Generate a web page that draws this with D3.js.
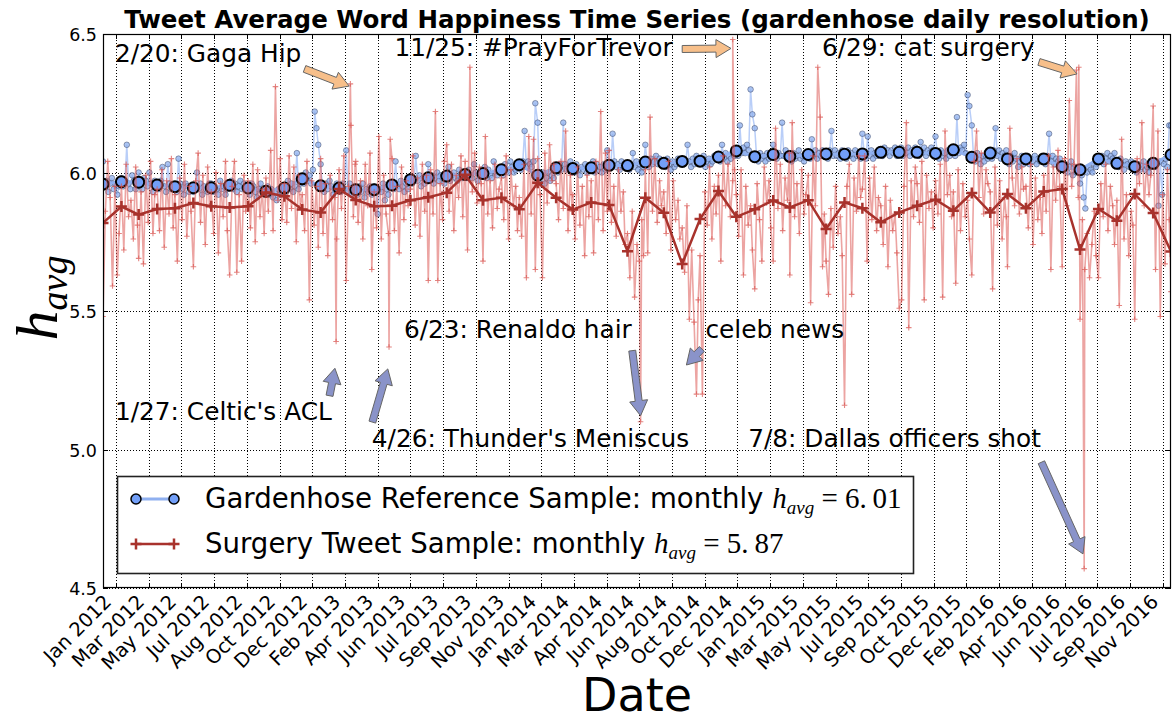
<!DOCTYPE html>
<html>
<head>
<meta charset="utf-8">
<script src="https://cdn.jsdelivr.net/npm/d3@7"></script>
<style>
body{margin:0;background:#fff}
</style>
</head>
<body>
<svg id="chart" width="1174" height="722"></svg>
<script>
//---monthly averages, one per month from Jan 2012 to Dec 2016---
var monthStart = new Date(2012, 0, 1)
var gardenMonthly = [5.958,5.967,5.965,5.955,5.949,5.945,5.945,5.954,5.944,5.932,5.944,5.977,
  5.952,5.944,5.938,5.938,5.955,5.974,5.981,5.987,5.993,5.996,6.010,6.028,
  5.990,6.017,6.014,6.017,6.026,6.025,6.038,6.033,6.040,6.041,6.056,6.078,
  6.057,6.065,6.058,6.065,6.067,6.066,6.067,6.073,6.073,6.073,6.069,6.082,
  6.055,6.070,6.049,6.049,6.049,6.021,6.010,6.049,6.033,6.021,6.033,6.064]
var surgeryMonthly = [5.818,5.877,5.848,5.868,5.871,5.890,5.878,5.874,5.878,5.928,5.914,5.866,
  5.856,5.940,5.901,5.878,5.880,5.900,5.911,5.927,5.992,5.900,5.909,5.867,
  5.963,5.909,5.866,5.892,5.883,5.716,5.909,5.855,5.670,5.832,5.933,5.840,
  5.867,5.899,5.874,5.900,5.796,5.892,5.871,5.820,5.856,5.880,5.902,5.862,
  5.926,5.856,5.922,5.871,5.931,5.940,5.722,5.868,5.826,5.922,5.854,5.715]

//---daily samples, one row per month (day of month listed in *Days)---
var surgeryDays = [1,5,9,13,17,21,25,28]
var surgeryDaily = [
 [5.48,5.86,6.04,5.91,5.59,5.95,5.63,5.78],[5.95,5.72,6.03,5.84,5.90,5.76,6.02,5.81],
 [5.69,5.93,5.67,5.99,5.82,6.04,5.78,5.92],[5.94,5.79,6.01,5.73,5.97,5.85,6.05,5.80],
 [5.92,5.68,5.98,5.83,6.03,5.77,5.95,5.86],[5.66,5.97,6.07,5.82,5.99,5.74,6.02,5.88],
 [5.93,5.78,6.00,5.71,5.96,5.84,6.04,5.79],[5.63,5.95,6.04,5.64,5.92,5.68,5.99,5.86],
 [5.97,5.80,6.03,5.75,6.01,5.84,5.94,5.78],[5.98,5.86,6.08,5.79,6.31,5.90,6.05,5.83],
 [5.96,5.82,6.06,5.87,6.02,5.75,5.99,5.88],[5.92,5.79,6.04,5.54,5.97,5.81,5.95,5.73],
 [6.05,5.78,5.96,5.70,5.99,5.83,5.91,5.76],[6.01,5.87,6.06,5.61,5.95,6.17,5.84,6.03],
 [6.04,5.82,5.97,5.76,6.03,5.88,6.07,5.65],[5.93,5.80,6.13,5.76,5.99,5.85,5.78,6.12],
 [6.05,5.79,5.95,5.71,6.02,5.83,5.97,5.88],[5.94,6.06,5.81,5.98,5.77,6.03,5.86,5.99],
 [5.61,6.01,5.85,6.22,5.61,5.96,5.83,6.04],[6.10,5.86,6.03,5.79,5.99,5.91,6.06,5.84],
 [6.04,5.72,6.38,5.93,6.07,5.89,6.02,5.96],[5.68,6.13,5.85,5.97,5.80,6.03,5.87,5.94],
 [5.98,5.83,6.06,5.76,6.01,5.88,5.95,5.79],[5.91,5.77,6.03,5.62,6.13,5.85,6.12,5.65],
 [6.05,5.92,5.62,6.07,5.89,6.10,5.97,6.03],[5.96,5.83,6.04,5.87,6.15,5.79,5.99,5.86],
 [5.92,5.76,6.02,5.81,5.95,5.70,5.99,5.84],[5.97,5.71,6.04,5.83,6.22,5.79,6.07,5.86],
 [6.08,5.82,5.95,5.77,6.01,5.86,5.93,5.74],[5.78,5.62,5.86,5.55,5.74,5.68,5.83,5.70],
 [6.01,5.71,6.20,5.86,6.05,5.82,5.97,5.88],[5.93,5.78,6.04,5.72,5.97,5.83,5.90,5.76],
 [5.80,5.64,5.88,5.47,5.72,5.46,5.20,5.54],[5.70,5.20,5.93,5.81,6.02,5.76,5.95,5.85],
 [5.99,5.68,6.06,5.88,6.03,5.84,5.97,6.01],[5.92,5.77,6.01,5.63,5.95,5.81,5.88,5.72],
 [5.58,5.96,5.83,5.68,6.02,5.89,5.97,5.80],[5.68,6.16,5.87,6.03,5.79,5.98,5.90,6.07],
 [5.63,6.18,5.84,5.96,5.78,6.01,5.85,5.92],[5.99,5.53,6.06,5.88,6.38,6.20,5.66,5.85],
 [5.68,5.56,5.87,5.73,5.95,5.78,5.84,5.70],[5.16,5.95,6.03,5.56,5.98,5.86,6.06,5.91],
 [5.94,6.06,5.68,5.98,5.83,6.02,5.79,5.91],[5.88,5.74,5.95,5.66,5.90,5.79,5.85,5.71],
 [5.51,5.54,5.95,6.18,5.44,5.97,5.84,6.02],[5.96,5.82,6.04,5.54,5.99,5.87,5.93,5.80],
 [5.97,5.85,6.03,5.55,6.15,5.92,5.99,5.84],[5.93,5.60,6.01,5.79,5.96,5.84,5.90,5.76],
 [5.63,6.04,6.15,5.91,6.07,5.85,6.01,5.96],[5.93,5.58,6.02,5.81,5.97,5.76,5.91,5.84],
 [5.66,6.16,5.98,5.88,6.05,5.85,6.02,5.94],[5.95,5.80,6.03,5.74,5.98,5.83,5.91,5.78],
 [5.99,5.86,6.06,5.65,6.02,5.90,6.08,5.95],[5.66,6.05,5.88,6.26,5.95,6.03,6.37,5.91],
 [5.47,5.83,5.65,5.78,5.62,5.74,5.86,5.70],[5.62,5.96,5.84,6.03,5.79,5.95,5.88,5.74],
 [5.90,5.52,6.12,5.76,5.92,5.70,5.86,5.81],[5.47,6.05,5.96,6.18,5.88,6.03,5.92,5.99],
 [6.24,5.65,6.15,5.48,5.92,5.67,6.01,5.83],[5.57,5.75,5.68,5.80,5.62,5.71,5.78,5.66]]
//---single days called out in the annotations---
var surgeryEvents = [["2013-01-27",5.39],["2013-02-20",6.32],["2013-04-26",5.37],
  ["2014-06-23",5.10],["2014-11-25",6.48],["2016-06-29",6.38],["2016-07-08",4.57]]

var gardenDays = [1,4,7,10,13,16,19,22,25,28]
var gardenDaily = [
 [6.04,5.95,5.97,5.93,5.96,5.98,5.94,5.96,5.92,5.95],[5.98,5.95,5.97,6.10,5.96,5.94,5.99,5.97,5.94,5.96],
 [6.00,5.96,5.94,5.98,5.97,5.95,6.00,5.96,5.93,5.97],[5.96,5.94,5.97,6.02,5.95,5.93,6.03,5.96,5.94,5.95],
 [5.95,5.93,6.05,5.96,5.94,5.92,5.96,5.95,5.93,5.94],[5.93,5.95,6.00,5.94,5.96,5.92,5.95,5.94,5.93,5.96],
 [5.96,5.93,5.95,5.94,5.92,5.97,5.94,5.95,5.92,5.94],[5.95,5.97,5.94,5.96,5.93,5.95,5.97,5.94,5.96,5.95],
 [5.94,5.92,5.96,5.95,5.93,5.91,5.94,5.96,5.93,5.94],[5.93,5.95,5.92,5.94,5.91,5.93,5.90,5.94,5.92,5.93],
 [5.95,5.93,5.97,5.94,5.96,5.93,5.95,6.07,5.94,5.96],[5.98,5.96,6.00,5.97,5.99,5.96,6.01,6.22,6.16,6.10],
 [6.03,5.95,5.93,5.96,5.94,5.97,5.95,5.92,5.94,5.96],[5.95,5.93,5.96,5.94,6.08,5.93,5.96,5.92,5.94,5.95],
 [5.94,5.92,5.95,5.93,5.96,5.91,5.94,5.93,5.95,5.92],[5.95,5.93,5.85,5.94,5.93,5.96,5.90,5.94,5.92,5.95],
 [5.96,5.94,6.04,5.95,5.94,5.97,5.95,5.93,5.96,5.94],[5.98,5.96,5.97,6.06,5.97,5.99,5.95,5.98,5.96,5.97],
 [6.03,5.97,5.99,5.96,5.98,6.00,5.97,5.99,5.98,5.96],[5.99,6.02,5.97,5.99,6.00,5.98,5.97,6.01,5.99,5.98],
 [6.00,5.98,6.01,5.99,5.98,6.03,6.00,5.97,5.99,6.01],[6.00,6.02,5.98,6.01,5.99,5.98,6.04,6.00,5.99,6.01],
 [6.02,5.99,6.03,6.01,6.00,6.04,6.02,6.00,6.01,6.03],[6.03,6.01,6.04,6.15,6.02,6.04,6.03,6.02,6.04,6.25],
 [6.18,5.97,5.99,6.00,5.96,5.98,6.00,5.97,5.99,5.98],[6.02,6.00,6.03,6.01,6.18,6.03,6.01,6.02,6.04,6.00],
 [6.02,6.00,6.03,6.01,5.99,6.02,6.01,6.03,6.00,6.02],[6.02,6.04,6.00,6.03,6.01,6.02,6.00,6.03,6.01,6.08],
 [6.03,6.02,6.14,6.04,6.02,6.03,6.01,6.04,6.02,6.03],[6.03,6.01,6.02,6.07,6.02,6.04,6.01,6.03,6.00,6.02],
 [6.10,6.04,6.02,6.05,6.03,6.04,6.06,6.03,6.05,6.04],[6.04,6.02,6.05,6.03,6.01,6.04,6.02,6.03,6.05,6.04],
 [6.05,6.03,6.04,6.10,6.04,6.02,6.05,6.03,6.06,6.04],[6.05,6.03,6.06,6.02,6.04,6.05,6.03,6.04,6.06,6.05],
 [6.06,6.04,6.10,6.05,6.07,6.04,6.06,6.05,6.07,6.06],[6.08,6.06,6.17,6.07,6.09,6.07,6.10,6.08,6.30,6.21],
 [6.16,6.06,6.04,6.07,6.05,6.06,6.04,6.07,6.05,6.06],[6.10,6.07,6.05,6.07,6.06,6.18,6.06,6.08,6.05,6.07],
 [6.06,6.04,6.07,6.05,6.06,6.08,6.05,6.06,6.04,6.07],[6.07,6.05,6.12,6.06,6.08,6.05,6.07,6.06,6.08,6.07],
 [6.07,6.05,6.08,6.15,6.06,6.08,6.06,6.07,6.05,6.08],[6.07,6.05,6.08,6.06,6.07,6.05,6.08,6.06,6.07,6.05],
 [6.14,6.07,6.05,6.13,6.06,6.08,6.05,6.07,6.06,6.08],[6.08,6.06,6.09,6.07,6.08,6.06,6.08,6.07,6.09,6.06],
 [6.07,6.09,6.06,6.08,6.07,6.09,6.06,6.08,6.07,6.09],[6.08,6.06,6.11,6.07,6.09,6.06,6.08,6.07,6.09,6.08],
 [6.13,6.07,6.05,6.08,6.06,6.07,6.05,6.08,6.06,6.07],[6.08,6.06,6.20,6.07,6.09,6.08,6.10,6.07,6.28,6.24],
 [6.17,6.05,6.04,6.07,6.05,6.03,6.06,6.04,6.06,6.05],[6.07,6.05,6.08,6.16,6.06,6.08,6.05,6.07,6.06,6.08],
 [6.05,6.03,6.06,6.04,6.07,6.05,6.02,6.04,6.06,6.03],[6.05,6.06,6.03,6.05,6.04,6.06,6.03,6.05,6.04,6.06],
 [6.05,6.03,6.06,6.14,6.04,6.06,6.03,6.05,6.04,6.05],[6.03,6.01,6.03,6.00,6.02,6.04,5.99,6.02,6.00,6.02],
 [5.96,5.99,5.91,5.87,6.00,6.02,6.01,6.00,6.03,6.02],[6.05,6.04,6.06,6.03,6.05,6.07,6.04,6.06,6.05,6.07],
 [6.04,6.02,6.05,6.03,6.01,6.04,6.03,6.02,6.04,6.03],[6.02,6.00,6.03,6.01,6.02,6.04,6.01,6.02,6.00,6.02],
 [6.04,6.02,6.03,5.88,6.04,5.92,6.03,6.05,6.02,6.17],[6.17,6.06,6.08,6.05,6.07,6.06,6.08,6.05,6.07,6.06]]

//---axis ticks---
var yTicks = [4.5,5.0,5.5,6.0,6.5]
var xTickStart = new Date(2012, 0, 23)
var xTickStepDays = 55
var xTickLabels = ["Jan 2012","Mar 2012","May 2012","Jul 2012","Aug 2012","Oct 2012","Dec 2012",
  "Feb 2013","Apr 2013","Jun 2013","Jul 2013","Sep 2013","Nov 2013","Jan 2014","Mar 2014",
  "Apr 2014","Jun 2014","Aug 2014","Oct 2014","Dec 2014","Jan 2015","Mar 2015","May 2015",
  "Jul 2015","Sep 2015","Oct 2015","Dec 2015","Feb 2016","Apr 2016","Jun 2016","Jul 2016",
  "Sep 2016","Nov 2016"]

var gardenAvg = "6.\u200901", surgeryAvg = "5.\u200987"

//---annotations: text spot and arrow tail -> tip, in data coordinates---
var notes = [
 {text:"2/20: Gaga Hip", at:["2012-01-21",6.399], from:["2012-12-05",6.374], to:["2013-02-18",6.312], kind:"up"},
 {text:"11/25: #PrayForTrevor", at:["2013-05-05",6.42], from:["2014-09-01",6.446], to:["2014-11-22",6.448], kind:"up"},
 {text:"6/29: cat surgery", at:["2015-04-24",6.42], from:["2016-04-23",6.399], to:["2016-06-26",6.356], kind:"up"},
 {text:"1/27: Celtic's ACL", at:["2012-01-21",5.107], from:["2013-01-16",5.194], to:["2013-01-25",5.293], kind:"down"},
 {text:"4/26: Thunder's Meniscus", at:["2013-03-28",5.009], from:["2013-03-29",5.099], to:["2013-04-24",5.291], kind:"down"},
 {text:"6/23: Renaldo hair", at:["2013-05-21",5.403], from:["2014-06-09",5.357], to:["2014-06-23",5.122], kind:"down"},
 {text:"celeb news", at:["2014-10-10",5.403], from:["2014-10-04",5.363], to:["2014-09-08",5.305], kind:"down"},
 {text:"7/8: Dallas officers shot", at:["2014-12-21",5.009], from:["2016-04-27",4.954], to:["2016-07-06",4.623], kind:"down"}]

var svg = d3.select("#chart")
var plotLeft = 103, plotRight = 1171, plotTop = 34, plotBottom = 588
var parse = d3.timeParse("%Y-%m-%d")

var xScale = d3.scaleTime().domain([monthStart, new Date(2016, 11, 1)]).range([plotLeft, plotRight])
var yScale = d3.scaleLinear().domain([4.5, 6.5]).range([plotBottom, plotTop])

function monthDate(i) { return d3.timeMonth.offset(monthStart, i) }

var gardenM = gardenMonthly.map(function(v, i) { return {date: monthDate(i), v: v} })
var surgeryM = surgeryMonthly.map(function(v, i) { return {date: monthDate(i), v: v} })

var gardenD = []
gardenDaily.forEach(function(row, i) {
  row.forEach(function(v, j) { gardenD.push({date: new Date(2012, i, gardenDays[j]), v: v}) })
})
var surgeryD = []
surgeryDaily.forEach(function(row, i) {
  row.forEach(function(v, j) { surgeryD.push({date: new Date(2012, i, surgeryDays[j]), v: v}) })
})
surgeryEvents.forEach(function(e) { surgeryD.push({date: parse(e[0]), v: e[1]}) })
surgeryD.sort(function(a, b) { return a.date - b.date })

svg.append("defs").append("clipPath").attr("id", "plotClip")
  .append("rect").attr("x", plotLeft).attr("y", plotTop).attr("width", plotRight - plotLeft).attr("height", plotBottom - plotTop)

//---grid---
var xTickDates = xTickLabels.map(function(d, k) { return d3.timeDay.offset(xTickStart, xTickStepDays * k) })

var gridG = svg.append("g").attr("stroke", "#000").attr("stroke-width", 1)
  .attr("stroke-dasharray", "1,2").attr("shape-rendering", "crispEdges")
xTickDates.forEach(function(d) {
  gridG.append("line").attr("x1", Math.round(xScale(d)) + .5).attr("x2", Math.round(xScale(d)) + .5)
    .attr("y1", plotTop).attr("y2", plotBottom)
})
yTicks.forEach(function(t) {
  gridG.append("line").attr("x1", plotLeft).attr("x2", plotRight)
    .attr("y1", Math.round(yScale(t)) + .5).attr("y2", Math.round(yScale(t)) + .5)
})

var plotG = svg.append("g").attr("clip-path", "url(#plotClip)")

var line = d3.line().x(function(d) { return xScale(d.date) }).y(function(d) { return yScale(d.v) })
function crossPath(s) { return "M" + (-s) + ",0H" + s + "M0," + (-s) + "V" + s }

//---gardenhose daily---
plotG.append("path").datum(gardenD).attr("d", line).attr("fill", "none")
  .attr("stroke", "#7fa6f2").attr("stroke-opacity", .55).attr("stroke-width", 1.5)
plotG.append("g").selectAll("circle").data(gardenD).enter().append("circle")
  .attr("cx", function(d) { return xScale(d.date) }).attr("cy", function(d) { return yScale(d.v) })
  .attr("r", 2.8).attr("fill", "#8fb0ee").attr("fill-opacity", .75)
  .attr("stroke", "#34405e").attr("stroke-opacity", .6).attr("stroke-width", .8)

//---gardenhose monthly---
plotG.append("path").datum(gardenM).attr("d", line).attr("fill", "none")
  .attr("stroke", "#8fb0f0").attr("stroke-width", 3)
plotG.append("g").selectAll("circle").data(gardenM).enter().append("circle")
  .attr("cx", function(d) { return xScale(d.date) }).attr("cy", function(d) { return yScale(d.v) })
  .attr("r", 5.5).attr("fill", "#729ff8").attr("stroke", "#000").attr("stroke-width", 2)

//---surgery daily---
plotG.append("path").datum(surgeryD).attr("d", line).attr("fill", "none")
  .attr("stroke", "#dc5a55").attr("stroke-opacity", .55).attr("stroke-width", 1.6)
plotG.append("g").selectAll("path").data(surgeryD).enter().append("path")
  .attr("transform", function(d) { return "translate(" + xScale(d.date) + "," + yScale(d.v) + ")" })
  .attr("d", crossPath(2.8)).attr("stroke", "#d9534f").attr("stroke-opacity", .7).attr("stroke-width", 1.1)

//---surgery monthly---
plotG.append("path").datum(surgeryM).attr("d", line).attr("fill", "none")
  .attr("stroke", "#a8322c").attr("stroke-width", 2.5)
plotG.append("g").selectAll("path").data(surgeryM).enter().append("path")
  .attr("transform", function(d) { return "translate(" + xScale(d.date) + "," + yScale(d.v) + ")" })
  .attr("d", crossPath(5.5)).attr("stroke", "#a8322c").attr("stroke-width", 2.5)

//---annotations---
function arrowPath(x0, y0, x1, y1, tw, hw, hl) {
  var dx = x1 - x0, dy = y1 - y0, L = Math.sqrt(dx * dx + dy * dy)
  var ux = dx / L, uy = dy / L, px = -uy, py = ux
  var bx = x1 - ux * hl, by = y1 - uy * hl
  var pts = [[x0 + px * tw / 2, y0 + py * tw / 2], [bx + px * tw / 2, by + py * tw / 2],
    [bx + px * hw / 2, by + py * hw / 2], [x1, y1], [bx - px * hw / 2, by - py * hw / 2],
    [bx - px * tw / 2, by - py * tw / 2], [x0 - px * tw / 2, y0 - py * tw / 2]]
  return "M" + pts.map(function(p) { return p[0].toFixed(1) + "," + p[1].toFixed(1) }).join("L") + "Z"
}

var noteG = svg.append("g")
notes.forEach(function(n) {
  noteG.append("path")
    .attr("d", arrowPath(xScale(parse(n.from[0])), yScale(n.from[1]), xScale(parse(n.to[0])), yScale(n.to[1]), 7, 18, 15))
    .attr("fill", n.kind == "up" ? "#f7bf8a" : "#8a93c9")
    .attr("stroke", "#666").attr("stroke-width", 1)
  noteG.append("text")
    .attr("x", xScale(parse(n.at[0]))).attr("y", yScale(n.at[1]))
    .attr("font-family", "DejaVu Sans").attr("font-size", "24.8px").attr("fill", "#000")
    .text(n.text)
})

//---axes frame and ticks---
var axisG = svg.append("g")
axisG.append("rect").attr("x", plotLeft + .5).attr("y", plotTop + .5).attr("width", plotRight - plotLeft - 1).attr("height", plotBottom - plotTop - 1)
  .attr("fill", "none").attr("stroke", "#000").attr("stroke-width", 1.2)

xTickDates.forEach(function(d, k) {
  var x = Math.round(xScale(d)) + .5
  axisG.append("line").attr("x1", x).attr("x2", x).attr("y1", plotBottom).attr("y2", plotBottom - 5).attr("stroke", "#000")
  axisG.append("line").attr("x1", x).attr("x2", x).attr("y1", plotTop).attr("y2", plotTop + 5).attr("stroke", "#000")
  axisG.append("text").attr("transform", "translate(" + (x - 4) + "," + (plotBottom + 15) + ")rotate(-45)")
    .attr("text-anchor", "end").attr("font-family", "DejaVu Sans").attr("font-size", "19.5px")
    .text(xTickLabels[k])
})
yTicks.forEach(function(t) {
  var y = Math.round(yScale(t)) + .5
  axisG.append("line").attr("x1", plotLeft).attr("x2", plotLeft + 5).attr("y1", y).attr("y2", y).attr("stroke", "#000")
  axisG.append("line").attr("x1", plotRight).attr("x2", plotRight - 5).attr("y1", y).attr("y2", y).attr("stroke", "#000")
  axisG.append("text").attr("x", plotLeft - 6).attr("y", y + 6).attr("text-anchor", "end")
    .attr("font-family", "DejaVu Sans").attr("font-size", "17.5px").text(d3.format(".1f")(t))
})

//---title and axis names---
svg.append("text").attr("x", (plotLeft + plotRight) / 2).attr("y", 28).attr("text-anchor", "middle")
  .attr("font-family", "DejaVu Sans").attr("font-weight", "bold").attr("font-size", "24.5px")
  .text("Tweet Average Word Happiness Time Series (gardenhose daily resolution)")

svg.append("text").attr("x", (plotLeft + plotRight) / 2).attr("y", 711).attr("text-anchor", "middle")
  .attr("font-family", "DejaVu Sans").attr("font-size", "46px").text("Date")

var yLab = svg.append("text").attr("transform", "translate(57,298)rotate(-90)").attr("text-anchor", "middle")
  .attr("font-family", "Liberation Serif").attr("font-style", "italic")
yLab.append("tspan").attr("font-size", "60px").text("h")
yLab.append("tspan").attr("font-size", "38px").attr("dy", 10).text("avg")

//---legend---
var legG = svg.append("g")
legG.append("rect").attr("x", 117.5).attr("y", 476.5).attr("width", 796).attr("height", 97)
  .attr("fill", "#fff").attr("stroke", "#222").attr("stroke-width", 1.6)

var legRows = [{y: 499, name: "Gardenhose Reference Sample: monthly ", avg: gardenAvg, kind: "garden"},
  {y: 544, name: "Surgery Tweet Sample: monthly ", avg: surgeryAvg, kind: "surgery"}]
legRows.forEach(function(r) {
  if (r.kind == "garden") {
    legG.append("line").attr("x1", 136).attr("x2", 174).attr("y1", r.y).attr("y2", r.y)
      .attr("stroke", "#8fb0f0").attr("stroke-width", 3)
    ;[136, 174].forEach(function(cx) {
      legG.append("circle").attr("cx", cx).attr("cy", r.y).attr("r", 5).attr("fill", "#729ff8")
        .attr("stroke", "#000").attr("stroke-width", 1.5)
    })
  } else {
    legG.append("line").attr("x1", 136).attr("x2", 174).attr("y1", r.y).attr("y2", r.y)
      .attr("stroke", "#a8322c").attr("stroke-width", 2.5)
    ;[136, 174].forEach(function(cx) {
      legG.append("path").attr("transform", "translate(" + cx + "," + r.y + ")").attr("d", crossPath(5.5))
        .attr("stroke", "#a8322c").attr("stroke-width", 2.5)
    })
  }
  var t = legG.append("text").attr("x", 205).attr("y", r.y + 9).attr("font-family", "DejaVu Sans").attr("font-size", "27.6px")
  t.append("tspan").text(r.name)
  t.append("tspan").attr("font-family", "Liberation Serif").attr("font-style", "italic").attr("font-size", "29px").text("h")
  t.append("tspan").attr("font-family", "Liberation Serif").attr("font-style", "italic").attr("font-size", "19px").attr("dy", 6).text("avg")
  t.append("tspan").attr("font-family", "Liberation Serif").attr("font-size", "29px").attr("dy", -6).text(" = " + r.avg)
})
</script>
</body>
</html>
